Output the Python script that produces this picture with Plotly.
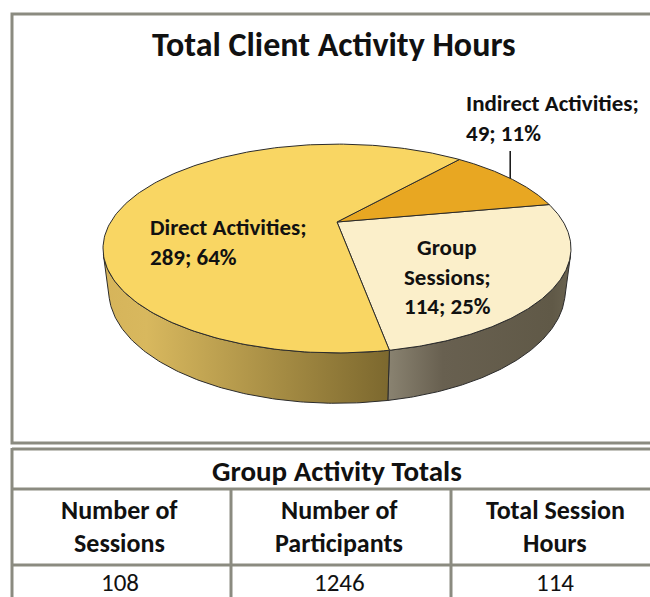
import numpy as np
import plotly.graph_objects as go

# chart data
categories = ["Direct Activities", "Indirect Activities", "Group Sessions"]
hours = [289, 49, 114]
top_colors = ["#F9D663", "#E8A722", "#FBEFCA"]
side_colors = [
    [[0, "#D6B45A"], [0.15, "#D8B85E"], [1, "#7C682E"]],
    [[0, "#C08A1C"], [1, "#8A6414"]],
    [[0, "#8A8371"], [0.3, "#686050"], [0.9, "#605947"], [1, "#6A6350"]],
]

# table data
table_title = "Group Activity Totals"
table_headers = [["Number of", "Sessions"], ["Number of", "Participants"], ["Total Session", "Hours"]]
table_values = [108, 1246, 114]

FONT = "Carlito, Calibri, Lato, sans-serif"
GRID = "#8B8B80"

# fake 3d pie: tilted disc seen in perspective (pixel space)
cx, cy = 337, 222
phi = np.radians(25)
dist = 3.57
fx, fy = 808, 825
depth = 0.2
start_angle = -80  # degrees, slices run counter-clockwise seen from above


def project(theta_deg, z=0.0):
    t = np.radians(theta_deg)
    X, Y = np.cos(t), np.sin(t)
    zc = dist + Y * np.cos(phi) - z * np.sin(phi)
    yc = Y * np.sin(phi) + z * np.cos(phi)
    return cx + fx * X / zc, cy - fy * yc / zc


total = sum(hours)
order = [2, 1, 0]  # group, indirect, direct going round
bounds = {}
a = start_angle
for i in order:
    span = hours[i] / total * 360
    bounds[i] = (a, a + span)
    a += span

# side wall visible where outward normal faces camera
cam_y = -dist * np.cos(phi)
lim = np.degrees(np.arcsin(1 / cam_y))  # negative angle
vis_lo, vis_hi = -180 - lim, lim

fig = go.Figure()

for i in order:
    a0, a1 = bounds[i]
    for shift in (0, -360, 360):
        lo = max(a0 + shift, vis_lo)
        hi = min(a1 + shift, vis_hi)
        if hi > lo:
            th = np.linspace(lo, hi, 120)
            xt, yt = project(th, 0)
            xb, yb = project(th[::-1], -depth)
            fig.add_trace(go.Scatter(
                x=np.concatenate([xt, xb, xt[:1]]),
                y=np.concatenate([yt, yb, yt[:1]]),
                mode="lines", fill="toself",
                fillgradient=dict(type="horizontal", colorscale=side_colors[i]),
                line=dict(color="#2b2b2b", width=1),
                hoverinfo="skip", showlegend=False,
            ))

for i in order:
    a0, a1 = bounds[i]
    th = np.linspace(a0, a1, 200)
    xs, ys = project(th, 0)
    fig.add_trace(go.Scatter(
        x=np.concatenate([[cx], xs, [cx]]),
        y=np.concatenate([[cy], ys, [cy]]),
        mode="lines", fill="toself", fillcolor=top_colors[i],
        line=dict(color="#2b2b2b", width=1),
        hoverinfo="skip", showlegend=False,
    ))

# slice labels
pcts = [round(v / total * 100) for v in hours]
label_lines = [
    [f"{categories[0]};", f"{hours[0]}; {pcts[0]}%"],
    [f"{categories[1]};", f"{hours[1]}; {pcts[1]}%"],
    categories[2].split(" ")[:1] + [categories[2].split(" ")[1] + ";", f"{hours[2]}; {pcts[2]}%"],
]
label_pos = [
    (148, [227, 257], "left"),
    (464, [103, 133], "left"),
    (447, [247, 277, 306], "center"),
]
for lines, (lx, lys, al) in zip(label_lines, label_pos):
    for txt, ly in zip(lines, lys):
        fig.add_annotation(x=lx, y=ly, text=f"<b>{txt}</b>", showarrow=False,
                           xanchor=al, yanchor="middle",
                           font=dict(family=FONT, size=23, color="#111"))

# leader line for the small slice, down to its rim midpoint
mid = sum(bounds[1]) / 2
lx_, ly_ = project(mid, 0)
fig.add_shape(type="line", x0=float(lx_), x1=float(lx_), y0=151, y1=float(ly_),
              line=dict(color="#111", width=1.5))

# title
fig.add_annotation(x=334, y=44, text="<b>Total Client Activity Hours</b>", showarrow=False,
                   xanchor="center", yanchor="middle",
                   font=dict(family=FONT, size=34, color="#111"))

# chart frame
fig.add_shape(type="rect", x0=12, x1=662, y0=14, y1=443, line=dict(color=GRID, width=3))

# table
col_edges = [12, 231, 451, 671]
fig.add_shape(type="line", x0=12, x1=662, y0=449, y1=449, line=dict(color=GRID, width=3))
for yy in (489, 565):
    fig.add_shape(type="line", x0=12, x1=662, y0=yy, y1=yy, line=dict(color=GRID, width=3))
fig.add_shape(type="line", x0=12, x1=12, y0=448, y1=600, line=dict(color=GRID, width=3))
for xx in col_edges[1:3]:
    fig.add_shape(type="line", x0=xx, x1=xx, y0=489, y1=600, line=dict(color=GRID, width=3))

fig.add_annotation(x=337, y=471, text=f"<b>{table_title}</b>", showarrow=False,
                   font=dict(family=FONT, size=29, color="#111"))
for k in range(3):
    xc = (col_edges[k] + col_edges[k + 1]) / 2 - 2
    if k == 2:
        xc = 555
    for txt, yy in zip(table_headers[k], (510, 543)):
        fig.add_annotation(x=xc, y=yy, text=f"<b>{txt}</b>", showarrow=False,
                           font=dict(family=FONT, size=26, color="#111"))
    fig.add_annotation(x=xc, y=582, text=str(table_values[k]), showarrow=False,
                       font=dict(family=FONT, size=25, color="#111"))

fig.update_xaxes(range=[0, 650], visible=False, fixedrange=True)
fig.update_yaxes(range=[597, 0], visible=False, fixedrange=True)
fig.update_layout(width=650, height=597, margin=dict(l=0, r=0, t=0, b=0),
                  plot_bgcolor="white", paper_bgcolor="white")

fig.write_html("out.html", config={"displayModeBar": False},
               post_script="document.body.style.margin='0';document.body.style.overflow='hidden';")
